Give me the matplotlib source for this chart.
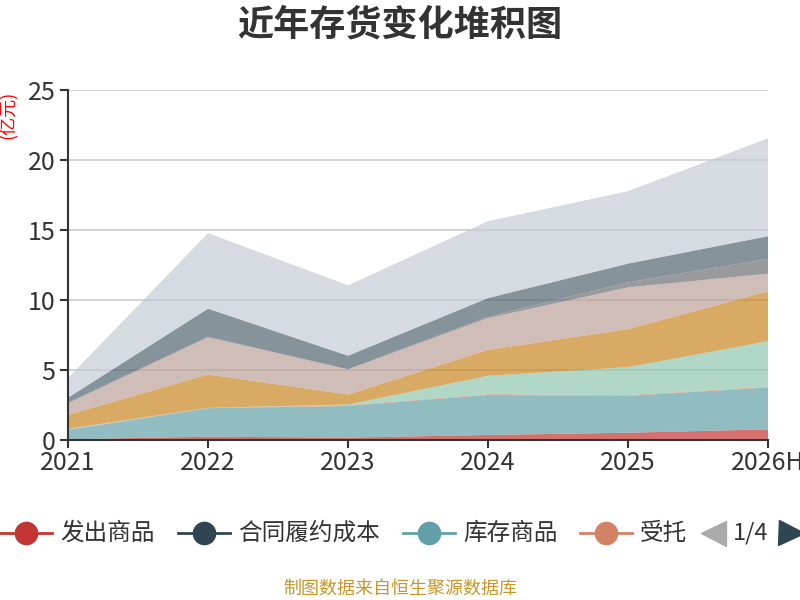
import numpy as np
import matplotlib.pyplot as plt
from matplotlib.lines import Line2D

plt.rcParams['font.family'] = ['Noto Sans CJK SC', 'DejaVu Sans']

years = ["2021", "2022", "2023", "2024", "2025", "2026H"]

# 存货构成 (亿元), stacking order bottom -> top
fachu = [0.05, 0.24, 0.17, 0.36, 0.52, 0.76]        # 发出商品
hetong = [0.0, 0.0, 0.0, 0.0, 0.0, 0.0]            # 合同履约成本
kucun = [0.67, 2.03, 2.26, 2.86, 2.63, 2.99]       # 库存商品
shoutuo = [0.03, 0.03, 0.05, 0.05, 0.05, 0.05]     # 受托代销商品
s5 = [0.05, 0.0, 0.05, 1.31, 2.0, 3.26]
s6 = [0.0, 0.0, 0.0, 0.0, 0.0, 0.0]
s7 = [1.0, 2.38, 0.72, 1.86, 2.72, 3.56]
s8 = [0.82, 2.65, 1.8, 2.27, 2.98, 1.26]
s9 = [0.05, 0.05, 0.0, 0.1, 0.36, 1.05]
s10 = [0.35, 2.0, 0.97, 1.33, 1.34, 1.63]
s11 = [1.4, 5.4, 5.03, 5.49, 5.17, 6.99]

series = [fachu, hetong, kucun, shoutuo, s5, s6, s7, s8, s9, s10, s11]
colors = ['#c23531', '#2f4554', '#61a0a8', '#d48265', '#91c7ae', '#749f83',
          '#ca8622', '#bda29a', '#6e7074', '#546570', '#c4ccd3']
legend_names = ["发出商品", "合同履约成本", "库存商品", "受托"]

fig = plt.figure(figsize=(8, 6), dpi=100)
ax = fig.add_axes([68/800, 160/600, 700/800, 350/600])

x = np.arange(len(years))
ax.stackplot(x, *series, colors=colors, alpha=0.7, linewidth=0)

ax.set_xlim(0, len(years) - 1)
ax.set_ylim(0, 25)
ax.set_yticks([0, 5, 10, 15, 20, 25])
ax.set_xticks(x)
ax.set_xticklabels(years)
ax.grid(axis='y', color='#cccccc', linewidth=1.2)
ax.set_axisbelow(True)
for side in ['top', 'right']:
    ax.spines[side].set_visible(False)
for side in ['left', 'bottom']:
    ax.spines[side].set_color('#333333')
    ax.spines[side].set_linewidth(1.5)
ax.tick_params(axis='both', colors='#333333', labelsize=18, length=6, width=1.5)
ax.tick_params(axis='x', pad=1)
ax.tick_params(axis='y', pad=3)
for lab in ax.get_xticklabels() + ax.get_yticklabels():
    lab.set_color('#333333')

fig.text(0.5, 1 - 25/600, "近年存货变化堆积图", ha='center', va='center',
         fontsize=26, fontweight='bold', color='#333333')
fig.text(8/800, 1 - 115/600, "(亿元)", rotation=90, ha='center', va='center',
         fontsize=13, color='red')

# legend (first page)
ly = 1 - 533/600
item_x = [0, 178, 403, 580]
for name, c, px in zip(legend_names, colors[:4], item_x):
    fig.add_artist(Line2D([px/800, (px + 52)/800], [ly, ly], color=c, linewidth=2,
                          transform=fig.transFigure))
    fig.add_artist(Line2D([(px + 26)/800], [ly], marker='o', markersize=16, color=c,
                          transform=fig.transFigure))
    fig.text((px + 60)/800, ly, name, ha='left', va='center', fontsize=17, color='#333333')

fig.add_artist(Line2D([713/800], [ly], marker='<', markersize=18, color='#aaaaaa',
                      linestyle='none', transform=fig.transFigure))
fig.text(751/800, ly, "1/4", ha='center', va='center', fontsize=17, color='#333333')
fig.add_artist(Line2D([791/800], [ly], marker='>', markersize=18, color='#2f4554',
                      linestyle='none', transform=fig.transFigure))

fig.text(0.5, 1 - 589/600, "制图数据来自恒生聚源数据库", ha='center', va='center',
         fontsize=13, color='#c8962a')

fig.savefig("out.png", dpi=100)
